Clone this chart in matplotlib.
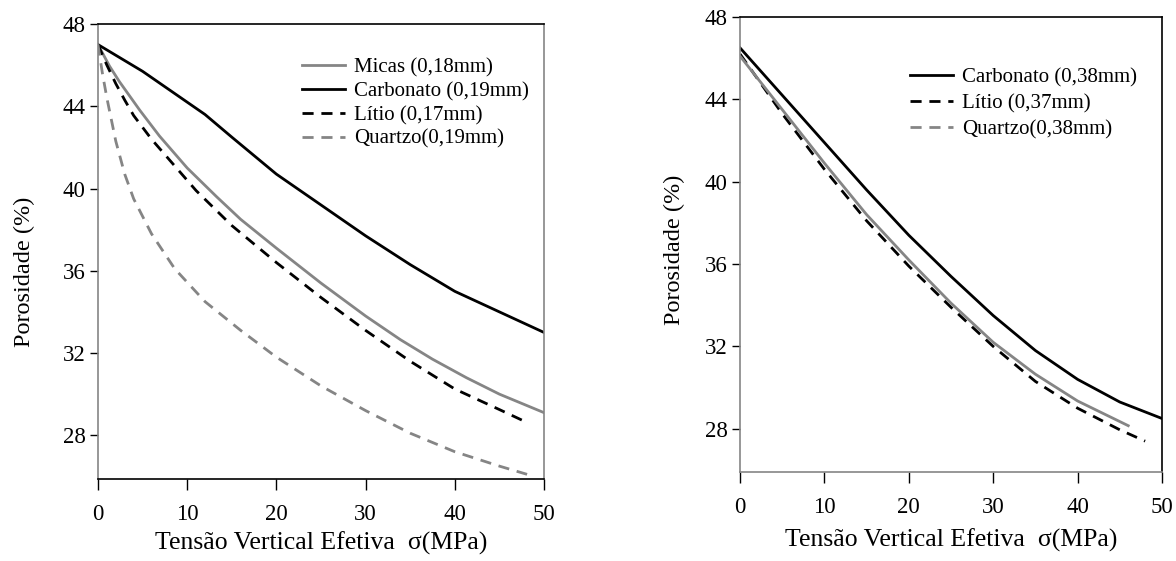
"""Porosidade vs tensao vertical efetiva: two panels (fine / coarse grains)."""

import matplotlib
matplotlib.use("Agg")
import matplotlib.pyplot as plt
from matplotlib.lines import Line2D

plt.rcParams["font.family"] = ["Liberation Serif", "DejaVu Serif"]

GRAY = "#858585"

# --- left panel data (grain ~0.18 mm) --------------------------------------
mic_x = [0, 1.3, 2.4, 4.7, 6.9, 10, 13.3, 16, 20, 25, 30, 33.9, 37.5, 41.3, 45, 50]
mic_y = [47.0, 45.95, 45.2, 43.8, 42.55, 41.0, 39.6, 38.5, 37.1, 35.4, 33.8, 32.65, 31.7, 30.8, 30.0, 29.1]

carb1_x = [0, 5, 10, 12, 15, 20, 25, 30, 35, 40, 45, 50]
carb1_y = [47.0, 45.7, 44.2, 43.6, 42.5, 40.7, 39.2, 37.7, 36.3, 35.0, 34.0, 33.0]

lit1_x = [0, 1, 2, 3, 4, 6, 8, 11, 15, 20, 25, 30, 35, 40, 45, 48.2]
lit1_y = [47.0, 46.0, 45.1, 44.3, 43.55, 42.4, 41.4, 39.9, 38.2, 36.4, 34.7, 33.1, 31.6, 30.25, 29.25, 28.6]

qtz1_x = [0, 0.5, 1, 2, 3, 4, 6, 8.6, 12, 16, 20, 25, 30, 35, 40, 45, 48.1]
qtz1_y = [47.0, 45.6, 44.4, 42.3, 40.7, 39.5, 37.8, 36.1, 34.5, 33.1, 31.8, 30.4, 29.2, 28.1, 27.2, 26.5, 26.1]

# --- right panel data (grain ~0.38 mm) -------------------------------------
carb2_x = [0, 5, 10, 15, 20, 25, 30, 35, 40, 45, 50]
carb2_y = [46.5, 44.2, 41.9, 39.6, 37.4, 35.4, 33.5, 31.8, 30.4, 29.3, 28.5]

lit2_x = [0, 5, 10, 15, 20, 25, 30, 35, 40, 45, 48]
lit2_y = [46.2, 43.3, 40.6, 38.1, 35.9, 33.9, 32.0, 30.3, 29.0, 27.95, 27.4]

qtz2_x = [0, 5, 10, 15, 20, 25, 30, 35, 40, 46]
qtz2_y = [46.1, 43.5, 40.9, 38.4, 36.2, 34.1, 32.2, 30.65, 29.35, 28.15]

xticks = [0, 10, 20, 30, 40, 50]
yticks = [28, 32, 36, 40, 44, 48]
xlabel = "Tensão Vertical Efetiva  σ(MPa)"
ylabel = "Porosidade (%)"


def style_axes(ax, spine_cols, ylim):
    ax.set_xlim(0, 50)
    ax.set_ylim(*ylim)
    ax.set_xticks(xticks)
    ax.set_yticks(yticks)
    for side, c in spine_cols.items():
        ax.spines[side].set_color(c)
        ax.spines[side].set_linewidth(1.2)
    ax.tick_params(axis="x", direction="out", length=8, width=1.0, pad=10,
                   labelsize=16.5, color="k")
    ax.tick_params(axis="y", direction="out", length=6, width=1.0, pad=3,
                   labelsize=16.5, color="k")
    ax.set_xlabel(xlabel, fontsize=18.5)
    ax.set_ylabel(ylabel, fontsize=17.5)


fig = plt.figure(figsize=(11.76, 5.61), dpi=100)
ax1 = fig.add_axes([0.0833, 0.1453, 0.3793, 0.8119])
ax2 = fig.add_axes([0.6293, 0.1586, 0.3588, 0.8111])

lw = 2.0
dash = (4, 2.8)
leg_kw = dict(bbox_transform=fig.transFigure, frameon=False, fontsize=15,
              handlelength=2.05, handletextpad=0.45, borderpad=0,
              borderaxespad=0, loc="upper left")

ax1.plot(mic_x, mic_y, color=GRAY, lw=lw, label="Micas (0,18mm)")
ax1.plot(carb1_x, carb1_y, color="k", lw=lw, label="Carbonato (0,19mm)")
ax1.plot(lit1_x, lit1_y, color="k", lw=lw, dashes=dash, label="Lítio (0,17mm)")
ax1.plot(qtz1_x, qtz1_y, color=GRAY, lw=lw, dashes=dash, label="Quartzo(0,19mm)")
style_axes(ax1, {"left": GRAY, "right": GRAY, "top": "k", "bottom": "k"}, (25.85, 48))
ax1.xaxis.set_label_coords(0.5, -0.115)
ax1.yaxis.set_label_coords(-0.141, 0.456)
ax1.legend(bbox_to_anchor=(302 / 1176, 1 - 58 / 561), labelspacing=0.2, **leg_kw)

h1, = ax2.plot(carb2_x, carb2_y, color="k", lw=lw)
h2, = ax2.plot(lit2_x, lit2_y, color="k", lw=lw, dashes=dash)
ax2.plot(qtz2_x, qtz2_y, color=GRAY, lw=lw)
qh = Line2D([], [], color=GRAY, lw=lw, dashes=dash)
style_axes(ax2, {"left": GRAY, "bottom": GRAY, "top": "k", "right": "k"}, (25.9, 48))
ax2.xaxis.set_label_coords(0.5, -0.125)
ax2.yaxis.set_label_coords(-0.130, 0.488)
ax2.legend([h1, h2, qh], ["Carbonato (0,38mm)", "Lítio (0,37mm)", "Quartzo(0,38mm)"],
           bbox_to_anchor=(910 / 1176, 1 - 68 / 561), labelspacing=0.3, **leg_kw)

fig.savefig("out.png", dpi=100)
